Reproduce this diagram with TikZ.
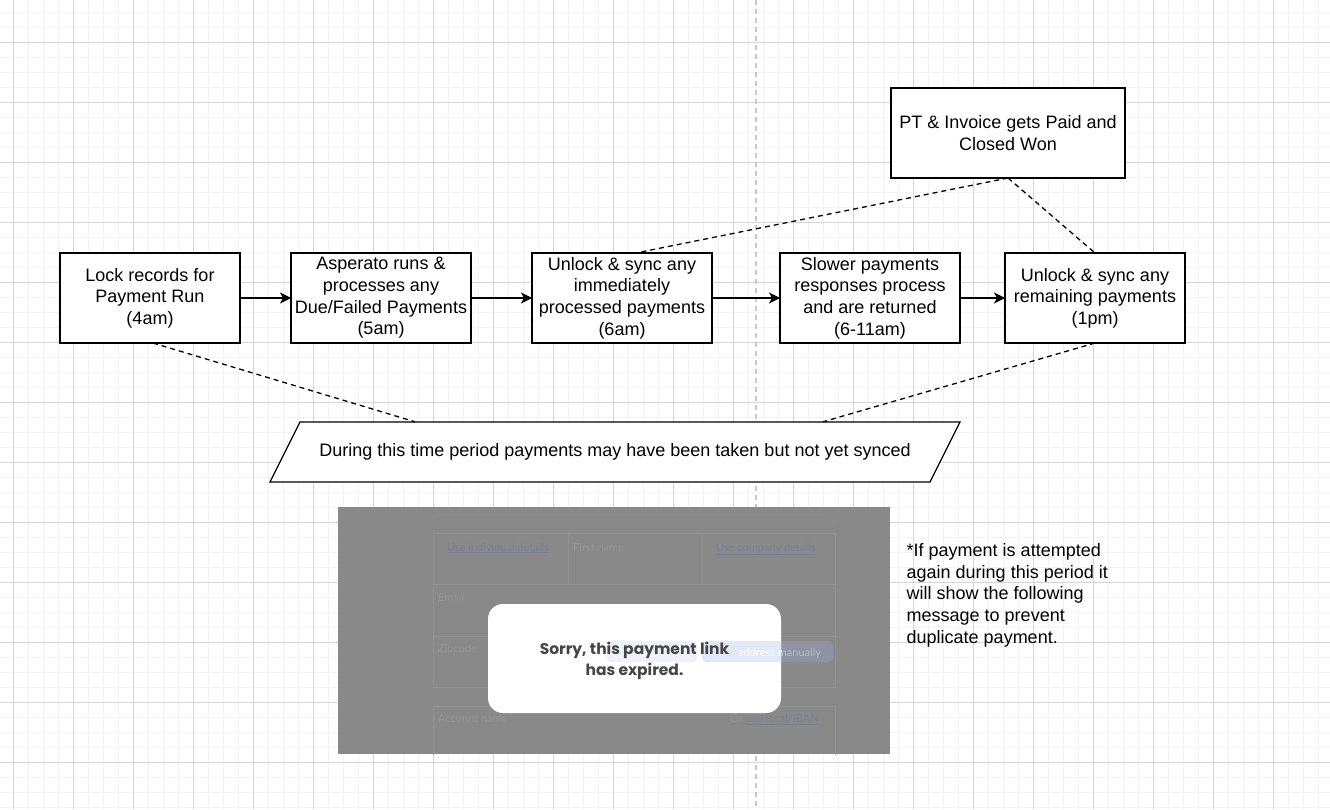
\documentclass[tikz,border=0pt]{standalone}
\usepackage{fontspec}
\setmainfont{Liberation Sans}
\newfontfamily\shotfont{Lato}
\newfontfamily\popfont{Poppins}
\usetikzlibrary{positioning}
\usetikzlibrary{calc}
\usetikzlibrary{arrows.meta}
\definecolor{gridminor}{HTML}{F3F3F3}
\definecolor{gridmajor}{HTML}{D5D5D5}
\definecolor{guide}{HTML}{C8C8C8}
\definecolor{shotgrey}{HTML}{898989}
\definecolor{formline}{HTML}{919191}
\definecolor{formtext}{HTML}{949494}
\definecolor{linkblue}{HTML}{7D8094}
\definecolor{btnA}{HTML}{8D9099}
\definecolor{btnB}{HTML}{8E93A2}
\definecolor{tintA}{HTML}{EEF2FA}
\definecolor{tintB}{HTML}{E2E9F6}
\definecolor{popuptext}{HTML}{454545}
\tikzset{>={Stealth[length=11pt,width=11pt,inset=3pt]}}
\tikzset{stage/.style={draw, line width=1.3pt, fill=white, minimum width=180pt, minimum height=90pt, inner sep=0pt, outer sep=0pt, align=center, font=\fontsize{18}{21.6}\selectfont}}
\tikzset{flow/.style={->, line width=1.3pt}}
\tikzset{dashlink/.style={line width=1.3pt, dash pattern=on 5pt off 4pt}}
\tikzset{formlbl/.style={inner sep=0pt, anchor=base west, text=formtext, font=\shotfont\fontsize{11}{13}\selectfont}}
\tikzset{popup/.style={fill=white, rounded corners=15pt, minimum width=293pt, minimum height=109pt, inner sep=0pt, align=center, text=popuptext, font=\popfont\bfseries\fontsize{15.5}{21}\selectfont}}

\begin{document}
\begin{tikzpicture}[x=1pt, y=-1pt]
\useasboundingbox (0,0) rectangle (1330,809);

% grid
\begin{scope}
\clip (0,0) rectangle (1330,809);
\foreach \gx in {13,28,...,1333} \draw[gridminor, line width=1pt] (\gx,0) -- (\gx,809);
\foreach \gy in {12,27,...,812} \draw[gridminor, line width=1pt] (0,\gy) -- (1330,\gy);
\foreach \gx in {13,73,...,1333} \draw[gridmajor, line width=1pt] (\gx,0) -- (\gx,809);
\foreach \gy in {42,102,...,812} \draw[gridmajor, line width=1pt] (0,\gy) -- (1330,\gy);
\end{scope}
\draw[guide, line width=1.5pt, dash pattern=on 5pt off 4pt] (756,0) -- (756,809);

\node[stage] (lock) at (150,298) {Lock records for\\Payment Run\\(4am)};
\node[stage, right=51pt of lock] (asperato) {Asperato runs \&\\processes any\\Due/Failed Payments\\(5am)};
\node[stage, right=61pt of asperato] (unlockA) {Unlock \& sync any\\immediately\\processed payments\\(6am)};
\node[stage, right=68pt of unlockA] (slower) {Slower payments\\responses process\\and are returned\\(6-11am)};
\node[stage, right=45pt of slower] (unlockB) {Unlock \& sync any\\remaining payments\\(1pm)};
\node[stage, minimum width=234pt] (paid) at (1008,133) {PT \& Invoice gets Paid and\\Closed Won};

\draw[flow] (lock) -- (asperato);
\draw[flow] (asperato) -- (unlockA);
\draw[flow] (unlockA) -- (slower);
\draw[flow] (slower) -- (unlockB);

% parallelogram note
\path[draw, fill=white, line width=1.3pt] (300,422) -- (960,422) -- (930,482) -- (270,482) -- cycle;
\node[minimum width=660pt, minimum height=60pt, inner sep=0pt, font=\fontsize{18}{21.6}\selectfont] (gap) at (615,452) {During this time period payments may have been taken but not yet synced};

\draw[dashlink] ([xshift=3pt]lock.south) -- ([xshift=-200pt]gap.north);
\draw[dashlink] (unlockB.south) -- ([xshift=208pt]gap.north);
\draw[dashlink] (paid.south) -- ([xshift=14pt]unlockA.north);
\draw[dashlink] (paid.south) -- (unlockB.north);

% screenshot
\node[fill=shotgrey, minimum width=552pt, minimum height=247pt, inner sep=0pt] (shot) at (614,630.5) {};
\begin{scope}
\clip (shot.north west) rectangle (shot.south east);
\draw[formline, rounded corners=4pt] (433,515) rectangle (835,524);
\draw[formline] (433,533) rectangle (835,687);
\draw[formline] (433,584) -- (835,584);
\draw[formline] (433,636) -- (835,636);
\draw[formline] (568,533) -- (568,584);
\draw[formline] (702,533) -- (702,584);
\draw[formline] (433,706) rectangle (835,775);
\fill[btnA, rounded corners=4pt] (607,641) rectangle (697,662);
\fill[btnB, rounded corners=4pt] (702,641) rectangle (833,662);
\node[formlbl, text=linkblue] (indiv) at (447,551) {\underline{Use individual details}};
\node[formlbl] (first) at (573,551) {First name};
\node[formlbl, text=linkblue] (company) at (716,551) {\underline{Use company details}};
\node[formlbl] (email) at (438,601) {Email};
\node[formlbl] (zip) at (438,652) {Zipcode};
\node[formlbl, text=btnA!60!white] (manual) at (738,656) {address manually};
\node[formlbl] (account) at (438,722) {Account name};
\node[formlbl] (orword) at (730,722) {Or};
\node[formlbl, text=linkblue] (iban) at (746,722) {\underline{use local/IBAN}};
\end{scope}
\node[popup] (msg) at (634.5,658.5) {};
\begin{scope}
\clip[rounded corners=15pt] (msg.north west) rectangle (msg.south east);
\fill[tintA, rounded corners=4pt] (607,641) rectangle (697,662);
\fill[tintB, rounded corners=4pt] (702,641) rectangle (833,662);
\node[formlbl, text=white] (manualtint) at (738,656) {address manually};
\end{scope}
\node[popup, fill=none] (msgtext) at (634.5,661) {Sorry, this payment link\\has expired.};

\node[anchor=north west, inner sep=0pt, align=left, font=\fontsize{18}{21.6}\selectfont] (hint) at (906.5,543.5) {*If payment is attempted\\again during this period it\\will show the following\\message to prevent\\duplicate payment.};
\end{tikzpicture}
\end{document}
